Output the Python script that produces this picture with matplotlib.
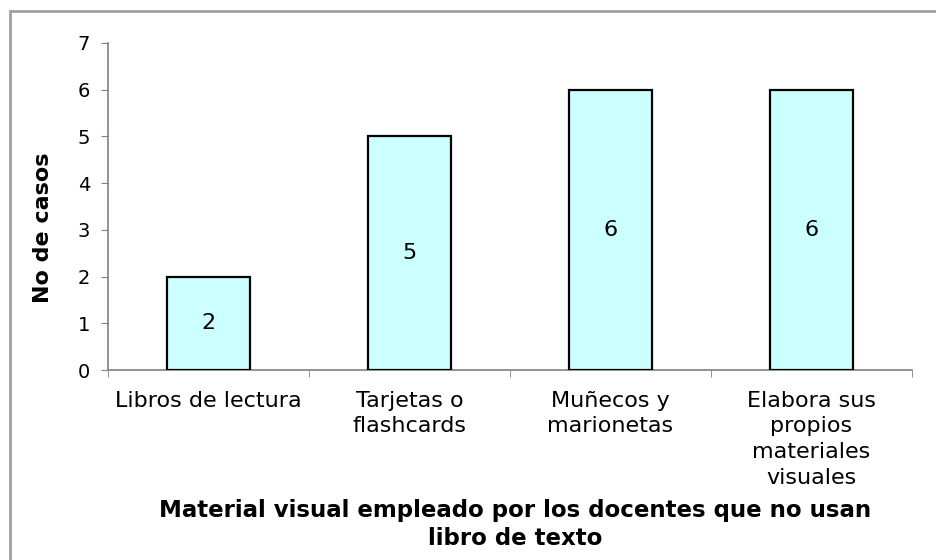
import matplotlib
matplotlib.use('Agg')
import matplotlib.pyplot as plt
from matplotlib.patches import Rectangle
import numpy as np

categorias = ['Libros de lectura', 'Tarjetas o\nflashcards', 'Muñecos y\nmarionetas',
              'Elabora sus\npropios\nmateriales\nvisuales']
casos = [2, 5, 6, 6]
yticks = [0, 1, 2, 3, 4, 5, 6, 7]
titulo = 'Material visual empleado por los docentes que no usan\nlibro de texto'
ylabel = 'No de casos'

plt.rcParams['font.family'] = ['DejaVu Sans']
gris = '#808080'

fig = plt.figure(figsize=(9.36, 5.6), dpi=100)
fig.patch.set_facecolor('white')

# marco exterior (cortado a la derecha y abajo)
fig.patches.append(Rectangle((10/936, -0.1), 1.2, 1 - 11/560 + 0.1, transform=fig.transFigure,
                             fill=False, edgecolor='#a0a0a0', linewidth=2))

ax = fig.add_axes([108/936, 190/560, 804/936, 327/560])
x = np.arange(len(categorias))
bars = ax.bar(x, casos, width=0.41, color='#ccffff', edgecolor='black', linewidth=1.6, zorder=3)
for b, v in zip(bars, casos):
    ax.text(b.get_x() + b.get_width()/2, v/2, str(v), ha='center', va='center', fontsize=16, zorder=4)

ax.set_xlim(-0.5, len(categorias) - 0.5)
ax.set_ylim(0, 7)
ax.set_yticks(yticks)
ax.tick_params(axis='y', length=5, color=gris, labelsize=14, pad=8)
ax.set_xticks(x)
ax.set_xticklabels(categorias, fontsize=16, linespacing=1.35)
ax.tick_params(axis='x', which='major', length=0, pad=15)
ax.set_xticks(np.arange(-0.5, len(categorias)), minor=True)
ax.tick_params(axis='x', which='minor', length=5, color=gris, direction='out')

for s in ['top', 'right']:
    ax.spines[s].set_visible(False)
for s in ['left', 'bottom']:
    ax.spines[s].set_color(gris)
    ax.spines[s].set_linewidth(1.2)

ax.text(-0.081, 0.434, ylabel, transform=ax.transAxes, rotation=90, ha='center', va='center',
        fontsize=16, fontweight='bold')

fig.text(515/936, 1 - 499/560, titulo, ha='center', va='top', fontsize=16.5, fontweight='bold',
         linespacing=1.3)
fig.savefig('out.png', dpi=100)
